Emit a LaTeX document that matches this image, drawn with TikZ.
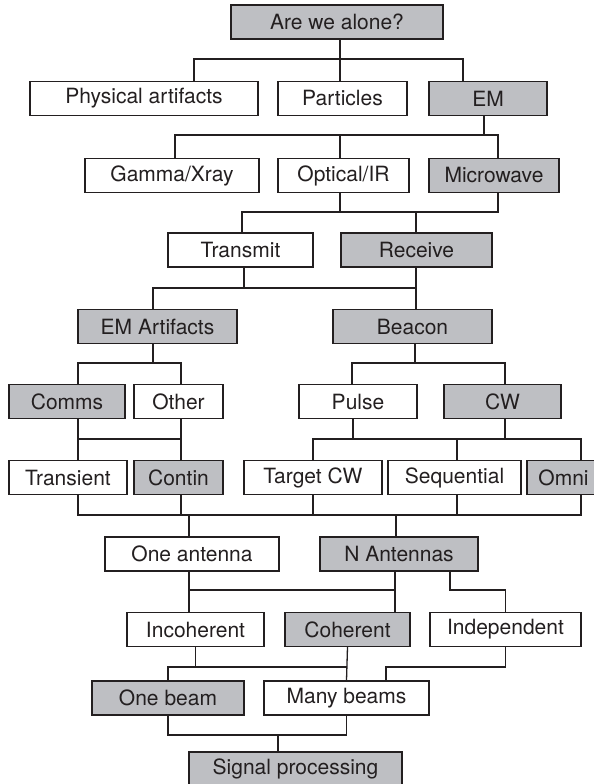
\documentclass[tikz,border=0pt]{standalone}
\usepackage{fontspec}
\setmainfont{TeX Gyre Heros}
\definecolor{boxgray}{RGB}{190,191,195}
\definecolor{inkline}{RGB}{35,31,32}

\begin{document}
\begin{tikzpicture}[x=1pt,y=-1pt,
  box/.style={rectangle,draw=inkline,line width=1.3pt,minimum width=#1,
    minimum height=34pt,inner sep=0pt,text=inkline,
    font=\fontsize{21}{24}\selectfont},
  hit/.style={box=#1,fill=boxgray},
  link/.style={draw=inkline,line width=1.3pt}
]
\useasboundingbox (0,0) rectangle (594,784);
\clip (0,0) rectangle (594,784);

% question and first split
\node[hit=212pt]  (alone)  at (337,22)    {Are we alone?};
\node[box=228pt]  (phys)   at (144,98.5)  {Physical artifacts};
\node[box=129pt]  (part)   at (342.5,98.5) {Particles};
\node[hit=118pt]  (em)     at (488,98.5)  {EM};

% bands
\node[box=174pt]  (gamma)  at (172,175.5) {Gamma/Xray};
\node[box=131pt]  (optic)  at (343.5,175.5) {Optical/IR};
\node[hit=130pt]  (micro)  at (494,175.5) {Microwave};

\node[box=145pt]  (trans)  at (240.5,250) {Transmit};
\node[hit=151pt]  (recv)   at (416.5,250) {Receive};

\node[hit=159pt]  (emart)  at (157.5,326.5) {EM Artifacts};
\node[hit=159pt]  (beacon) at (412.5,326.5) {Beacon};

% signal types
\node[hit=116pt]  (comms)  at (67,401.5)  {Comms};
\node[box=89pt]   (other)  at (178.5,401.5) {Other};
\node[box=118pt]  (pulse)  at (358,401.5) {Pulse};
\node[hit=117pt]  (cw)     at (502.5,401.5) {CW};

\node[box=118pt]  (trnsnt) at (68,477.5)  {Transient};
\node[hit=89pt]   (contin) at (178.5,477.5) {Contin};
\node[box=138pt]  (target) at (313,477.5) {Target CW};
\node[box=133pt]  (seq)    at (454.5,477.5) {Sequential};
\node[hit=73pt]   (omni)   at (563.5,477.5) {Omni};

% antennas
\node[box=174pt]  (onant)  at (192,554)   {One antenna};
\node[hit=158pt]  (nant)   at (399,554)   {N Antennas};

\node[box=137pt]  (incoh)  at (195.5,629.5) {Incoherent};
\node[hit=125pt]  (coh)    at (347.5,629.5) {Coherent};
\node[box=151pt]  (indep)  at (505.5,629.5) {Independent};

\node[hit=152pt]  (onebm)  at (168,698)   {One beam};
\node[box=165pt]  (manybm) at (346.5,698) {Many beams};

\node[hit=213pt]  (sigp)   at (295.5,769) {Signal processing};

% junctions
\coordinate (j1)  at (340,59);
\coordinate (j2)  at (484,135);
\coordinate (j3)  at (416,212);
\coordinate (j4)  at (416,288);
\coordinate (j5)  at (153,363);
\coordinate (j6)  at (415,363);
\coordinate (j7a) at (78,439);
\coordinate (j7b) at (181,439);
\coordinate (j8)  at (457,439);
\coordinate (j9)  at (396,515);
\coordinate (j10) at (395,590);
\coordinate (j10b) at (450,590);
\coordinate (j11) at (347,667);
\coordinate (j11b) at (386,667);
\coordinate (j12) at (278,735);

\draw[link] (alone.south -| j1) -- (j1);
\draw[link] ([xshift=50pt]phys.north) |- (j1) -| ([xshift=-25pt]em.north);
\draw[link] (j1) -- (part.north -| j1);

\draw[link] (em.south -| j2) -- (j2);
\draw[link] ([xshift=3pt]gamma.north) |- (j2) -| ([xshift=4pt]micro.north);
\draw[link] ([xshift=-3.5pt]optic.north) |- (j2);

\draw[link] ([xshift=-3.5pt]optic.south) |- (j3);
\draw[link] ([xshift=4pt]micro.south) |- (j3);
\draw[link] ([xshift=1.5pt]trans.north) |- (j3);
\draw[link] (j3) -- (recv.north -| j3);

\draw[link] (recv.south -| j4) -- (beacon.north -| j4);
\draw[link] ([xshift=3.5pt]trans.south) |- (j4);
\draw[link] ([xshift=-4.5pt]emart.north) |- (j4);

\draw[link] (emart.south -| j5) -- (j5);
\draw[link] ([xshift=11pt]comms.north) |- (j5) -| ([xshift=2.5pt]other.north);
\draw[link] (beacon.south -| j6) -- (j6);
\draw[link] ([xshift=-6pt]pulse.north) |- (j6) -| ([xshift=2.5pt]cw.north);

\draw[link] ([xshift=11pt]comms.south) -- ([xshift=10pt]trnsnt.north);
\draw[link] ([xshift=2.5pt]other.south) -- ([xshift=2.5pt]contin.north);
\draw[link] (j7a) -- (j7b);

\draw[link] ([xshift=-5pt]pulse.south) |- (j8);
\draw[link] ([xshift=2.5pt]cw.south) |- (j8);
\draw[link] (target.north) |- (j8) -| ([xshift=17.5pt]omni.north);
\draw[link] (j8) -- ([xshift=2.5pt]seq.north);

\draw[link] ([xshift=10pt]trnsnt.south) |- (j9);
\draw[link] ([xshift=2.5pt]contin.south) |- (j9);
\draw[link] (target.south) |- (j9);
\draw[link] ([xshift=2.5pt]seq.south) |- (j9);
\draw[link] ([xshift=17.5pt]omni.south) |- (j9);
\draw[link] ([xshift=-3pt]onant.north) |- (j9);
\draw[link] (j9) -- (nant.north -| j9);

\draw[link] ([xshift=-3pt]onant.south) -- ([xshift=-6.5pt]incoh.north);
\draw[link] ([xshift=-6.5pt]incoh.north) |- (j10);
\draw[link] (nant.south -| j10) -- (coh.north -| j10);
\draw[link] (nant.south -| j10b) -- (j10b) -| (indep.north);

\draw[link] (coh.south) -- (manybm.north);
\draw[link] (incoh.south) |- (j11);
\draw[link] (onebm.north) |- (j11);
\draw[link] (indep.south) |- (j11b) -- (manybm.north -| j11b);

\draw[link] (onebm.south) |- (j12);
\draw[link] (manybm.south) |- (j12);
\draw[link] (j12) -- ([xshift=-17.5pt]sigp.north);
\end{tikzpicture}
\end{document}
